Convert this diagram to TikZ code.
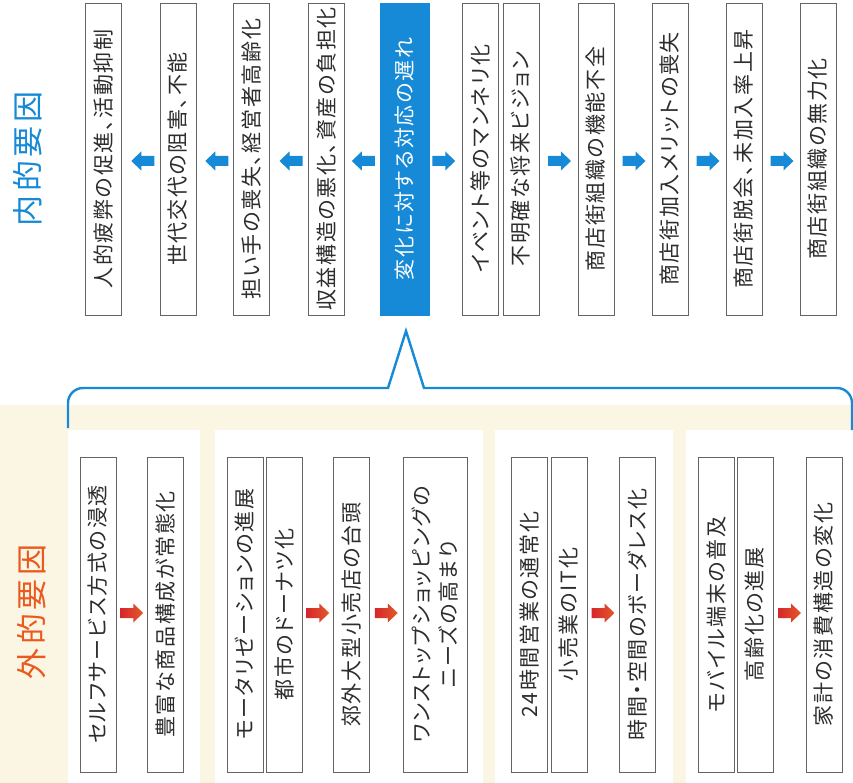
\documentclass[tikz,border=0pt]{standalone}
\usepackage{fontspec}
\newfontfamily\jp[LetterSpace=8,RawFeature=+palt]{Noto Sans CJK JP}
\newfontfamily\jptitle[LetterSpace=12]{Noto Sans CJK JP}
\usetikzlibrary{calc}
\definecolor{kblue}{RGB}{22,138,214}
\definecolor{korange}{RGB}{234,90,30}
\definecolor{kred}{RGB}{214,38,44}
\definecolor{kredtip}{RGB}{226,90,40}
\definecolor{kbeige}{RGB}{251,246,228}
\definecolor{boxgray}{RGB}{100,100,100}
\definecolor{txt}{RGB}{45,45,45}
\newcommand\blkarrow[3]{%
  \fill[#1, shift={(#2)}, xscale=#3]
    (-11.5,-5) -- (1.5,-5) -- (1.5,-9.5) -- (11.5,0) -- (1.5,9.5)
    -- (1.5,5) -- (-11.5,5) -- cycle;}
\newcommand\redarrow[1]{%
  \shade[left color=kred, right color=kredtip, shift={(#1)}]
    (-11.5,-5) -- (1.5,-5) -- (1.5,-9.5) -- (11.5,0) -- (1.5,9.5)
    -- (1.5,5) -- (-11.5,5) -- cycle;}
\begin{document}
\begin{tikzpicture}[x=1pt,y=-1pt,
  tbox/.style={draw=boxgray, line width=0.8pt, rotate=90, minimum width=312pt,
    minimum height=36pt, inner sep=0pt, text=txt, fill=white,
    font=\jp\fontsize{21}{27}\selectfont},
  bbox/.style={tbox, minimum width=315pt},
  hbox/.style={tbox, draw=kblue, fill=kblue, text=white, minimum height=49pt},
  ttl/.style={rotate=90, font=\jptitle\fontsize{31}{31}\selectfont}
]
\useasboundingbox (0,0) rectangle (853,783);
% backgrounds
\fill[white] (0,0) rectangle (853,405);
\fill[kbeige] (0,405) rectangle (853,783);
\fill[white] (68,430) rectangle (200,783);
\fill[white] (215,430) rectangle (483,783);
\fill[white] (495,430) rectangle (673,783);
\fill[white] (686,430) rectangle (853,783);

% titles
\node[ttl, text=kblue] (tin) at (28,159) {内的要因};
\node[ttl, text=korange] (tout) at (32,612) {外的要因};

% top row
\node[tbox] (a1) at (103.5,159) {人的疲弊の促進、活動抑制};
\node[tbox] (a2) at (178,159) {世代交代の阻害、不能};
\node[tbox] (a3) at (251.5,159) {担い手の喪失、経営者高齢化};
\node[tbox] (a4) at (326.5,159) {収益構造の悪化、資産の負担化};
\node[hbox] (a5) at (404.5,159) {変化に対する対応の遅れ};
\node[tbox] (a6) at (480.5,159) {イベント等のマンネリ化};
\node[tbox] (a7) at (521,159) {不明確な将来ビジョン};
\node[tbox] (a8) at (596,159) {商店街組織の機能不全};
\node[tbox] (a9) at (670,159) {商店街加入メリットの喪失};
\node[tbox] (a10) at (744,159) {商店街脱会、未加入率上昇};
\node[tbox] (a11) at (818,159) {商店街組織の無力化};

\coordinate (l1) at ($(a1.south)!0.5!(a2.north)+(2,2)$);
\coordinate (l2) at ($(a2.south)!0.5!(a3.north)+(2,2)$);
\coordinate (l3) at ($(a3.south)!0.5!(a4.north)+(2,2)$);
\coordinate (l4) at ($(a4.south)!0.5!(a5.north)+(1,2)$);
\coordinate (r1) at ($(a5.south)!0.5!(a6.north)+(-2,2)$);
\coordinate (r2) at ($(a7.south)!0.5!(a8.north)+(1,2)$);
\coordinate (r3) at ($(a8.south)!0.5!(a9.north)+(1,2)$);
\coordinate (r4) at ($(a9.south)!0.5!(a10.north)+(1,2)$);
\coordinate (r5) at ($(a10.south)!0.5!(a11.north)+(1,2)$);
\blkarrow{kblue}{l1}{-1}
\blkarrow{kblue}{l2}{-1}
\blkarrow{kblue}{l3}{-1}
\blkarrow{kblue}{l4}{-1}
\blkarrow{kblue}{r1}{1}
\blkarrow{kblue}{r2}{1}
\blkarrow{kblue}{r3}{1}
\blkarrow{kblue}{r4}{1}
\blkarrow{kblue}{r5}{1}

% bracket
\draw[kblue, line width=2.4pt, line join=miter]
  (68,428) -- (68,403) .. controls (68,394.7) and (74.7,388) .. (83,388)
  -- (388,388) -- (406,331) -- (424,388) -- (837,388)
  .. controls (845.3,388) and (852,394.7) .. (852,403) -- (852,430);

% bottom row
\node[bbox] (b1) at (98,614.5) {セルフサービス方式の浸透};
\node[bbox] (b2) at (165.5,614.5) {豊富な商品構成が常態化};
\node[bbox] (b3) at (245,614.5) {モータリゼーションの進展};
\node[bbox] (b4) at (284,614.5) {都市のドーナツ化};
\node[bbox] (b5) at (351.5,614.5) {郊外大型小売店の台頭};
\node[bbox, minimum height=64pt, align=center] (b6) at (435,614.5) {ワンストップショッピングの\\ニーズの高まり};
\node[bbox] (b7) at (529.5,614.5) {24時間営業の通常化};
\node[bbox] (b8) at (569,614.5) {小売業のIT化};
\node[bbox] (b9) at (637,614.5) {時間・空間のボーダレス化};
\node[bbox] (b10) at (716,614.5) {モバイル端末の普及};
\node[bbox] (b11) at (755,614.5) {高齢化の進展};
\node[bbox] (b12) at (824,614.5) {家計の消費構造の変化};

\coordinate (s1) at ($(b1.south)!0.5!(b2.north)+(0,-1.5)$);
\coordinate (s2) at ($(b4.south)!0.5!(b5.north)+(0,-1.5)$);
\coordinate (s3) at ($(b5.south)!0.5!(b6.north)+(0,-1.5)$);
\coordinate (s4) at ($(b8.south)!0.5!(b9.north)+(0,-1.5)$);
\coordinate (s5) at ($(b11.south)!0.5!(b12.north)+(0,-1.5)$);
\redarrow{s1}
\redarrow{s2}
\redarrow{s3}
\redarrow{s4}
\redarrow{s5}
\end{tikzpicture}
\end{document}
